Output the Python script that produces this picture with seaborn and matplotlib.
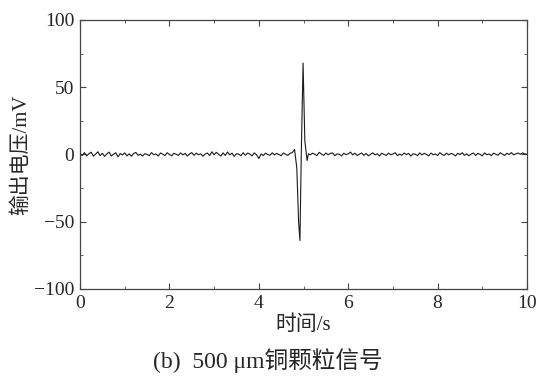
import numpy as np
import pandas as pd
import matplotlib
matplotlib.use("Agg")
import matplotlib.pyplot as plt
import seaborn as sns
from matplotlib.ticker import MultipleLocator

# noise before the particle passes (step 0.05 s, starting at 0 s), mV
v_before = [0.5, -0.8, 1.4, -1.0, 0.6, 1.7, -1.2, 0.3, 2.0, -0.8,
            0.9, -1.4, 0.4, 1.8, -1.1, 0.2, 1.3, -1.7, 0.7, -0.3,
            1.2, -1.0, 0.5, -1.3, 0.8, 1.5, -0.6, 0.2, -1.1, 0.6,
            0.1, -0.9, 1.4, -0.2, 0.4, -1.2, 1.1, 0.3, -0.8, 1.3,
            0.0, -1.0, 0.9, 0.2, -0.7, 1.2, -0.3, 0.8, -1.1, 0.4,
            1.4, -0.6, 1.0, -0.2, 0.5, -1.3, 0.3, 1.1, -0.8, 2.0,
            -0.2, 1.6, 0.1, -1.1, 1.2, -0.7, 1.9, -0.3, 1.0, -1.4,
            0.6, 0.2, -0.9, 1.3, -0.6, 1.1, 0.3, -1.0, 1.2, -0.2,
            -3.0, 0.4, -0.8, 1.0, 0.1, -0.6, 1.2, -0.3, 0.8, 0.0,
            -0.9, 1.1, 0.2, -0.7, 0.9, 1.4, 3.8]
# the particle pulse
t_pulse = [4.85, 4.89, 4.92, 4.95, 4.99, 5.03, 5.08, 5.11]
v_pulse = [-10.0, -50.0, -64.0, 0.0, 68.0, 10.0, -4.5, 0.5]
# noise after the pulse (step 0.05 s, starting at 5.15 s), mV
v_after = [-0.3, 1.0, 0.2, -0.8, 1.6, 0.3, -0.7, 1.1, -0.2, 0.8,
           1.2, -0.9, 0.4, 0.2, -1.1, 0.9, -0.1, 0.5, 1.8, -0.3,
           1.0, -0.8, 0.3, 1.1, -0.6, 0.8, -1.0, 0.2, 1.2, -0.3,
           0.5, -1.1, 0.9, 0.1, -0.7, 1.0, -0.2, 0.4, 1.3, -0.8,
           0.3, -0.6, 1.1, -0.1, 0.8, -1.2, 0.5, 0.2, -0.9, 1.2,
           -0.3, 0.9, 0.1, -1.0, 1.1, -0.2, 0.4, -0.8, 1.4, 0.0,
           -0.7, 1.0, -0.3, 0.8, 0.2, -1.1, 0.9, -0.1, 1.3, -0.6,
           0.5, -0.9, 0.3, 1.1, -0.7, 0.8, 0.1, -1.0, 1.2, -0.2,
           0.4, -0.8, 1.0, 0.2, -0.6, 1.3, 0.3, -0.7, 0.9, 0.0,
           1.4, -0.3, 0.5, 1.1, 0.2, 1.2, 0.4, 0.2]

x_ticks = [0, 2, 4, 6, 8, 10]
y_ticks = [-100, -50, 0, 50, 100]

t_before = list(np.arange(len(v_before)) * 0.05)
t_after = list(5.15 + np.arange(len(v_after)) * 0.05)
df = pd.DataFrame({"t": t_before + t_pulse + t_after,
                   "v": v_before + v_pulse + v_after})

sns.set_theme(style="ticks")
fam = ["Liberation Serif", "Noto Sans CJK SC"]
plt.rcParams["font.family"] = fam
plt.rcParams["axes.unicode_minus"] = True

fig = plt.figure(figsize=(5.54, 3.86), dpi=100)
ax = fig.add_axes([0.1444, 0.2513, 0.8069, 0.6969])

sns.lineplot(data=df, x="t", y="v", ax=ax, color="#1a1a1a", linewidth=0.8,
             sort=False)

ax.set_xlim(0, 10)
ax.set_ylim(-100, 100)
ax.set_xticks(x_ticks)
ax.set_yticks(y_ticks)
ax.xaxis.set_minor_locator(MultipleLocator(1))
ax.yaxis.set_minor_locator(MultipleLocator(25))
ax.tick_params(which="both", direction="in", top=True, right=True,
               labelsize=14, color="#444444")
ax.tick_params(which="major", length=4, width=0.8, pad=4)
ax.tick_params(which="minor", length=2.5, width=0.6)
for s in ax.spines.values():
    s.set_color("#444444")
    s.set_linewidth(0.9)

ax.set_xlabel("时间/s", fontsize=15, labelpad=3)
ax.set_ylabel("输出电压/mV", fontsize=15, labelpad=2)
fig.text(0.484, 0.067, "(b)  500 μm铜颗粒信号", fontsize=17,
         ha="center", va="center")

fig.savefig("out.png", dpi=100)
